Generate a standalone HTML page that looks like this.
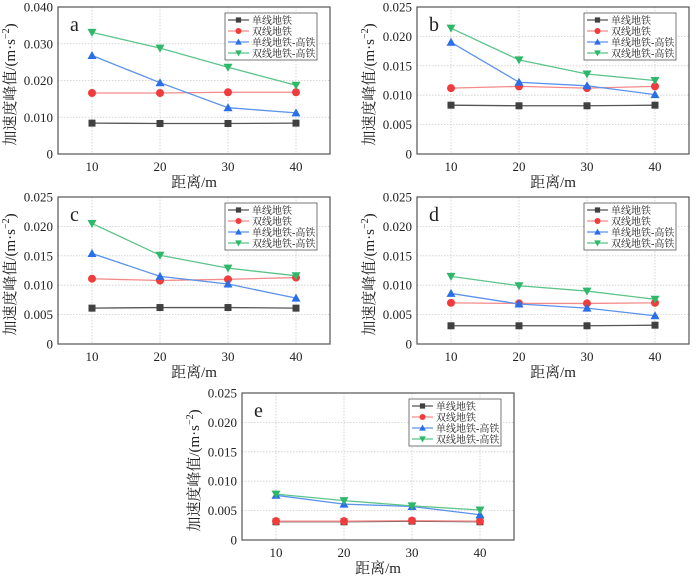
<!DOCTYPE html>
<html><head><meta charset="utf-8">
<style>
body{margin:0;background:#fff;width:700px;height:580px;overflow:hidden}
svg{display:block}
text{font-family:"Liberation Serif","Noto Serif CJK SC",serif;fill:#222}
</style></head>
<body>
<svg id="fig" width="700" height="580" viewBox="0 0 700 580"></svg>
<script>
const xCategories=[10,20,30,40];
const seriesNames=["单线地铁","双线地铁","单线地铁-高铁","双线地铁-高铁"];
const aBlack=[0.0084,0.0083,0.0083,0.0084];
const aRed=[0.0166,0.0166,0.0168,0.0168];
const aBlue=[0.0268,0.0194,0.0126,0.0112];
const aGreen=[0.0331,0.0288,0.0236,0.0187];
const bBlack=[0.0083,0.0082,0.0082,0.0083];
const bRed=[0.0112,0.0115,0.0112,0.0115];
const bBlue=[0.0190,0.0122,0.0116,0.0101];
const bGreen=[0.0214,0.0160,0.0136,0.0125];
const cBlack=[0.0061,0.0062,0.0062,0.0061];
const cRed=[0.0111,0.0108,0.0110,0.0113];
const cBlue=[0.0154,0.0115,0.0102,0.0078];
const cGreen=[0.0205,0.0151,0.0129,0.0116];
const dBlack=[0.0031,0.0031,0.0031,0.0032];
const dRed=[0.0070,0.0069,0.0069,0.0070];
const dBlue=[0.0086,0.0068,0.0061,0.0048];
const dGreen=[0.0115,0.0099,0.0090,0.0076];
const eBlack=[0.0031,0.0031,0.0032,0.0031];
const eRed=[0.0032,0.0032,0.0033,0.0032];
const eBlue=[0.0076,0.0061,0.0057,0.0043];
const eGreen=[0.0078,0.0067,0.0058,0.0051];
const yTicksA=["0","0.010","0.020","0.030","0.040"];
const yTicksB=["0","0.005","0.010","0.015","0.020","0.025"];

const NS="http://www.w3.org/2000/svg";
const svg=document.getElementById('fig');
const colors=["#404040","#f03c3c","#2a6fe8","#2fb86a"];
const lineColors=["#555","#f58a8a","#5a92ec","#5cc48a"];
function mk(tag,attrs,parent){const e=document.createElementNS(NS,tag);for(const k in attrs)e.setAttribute(k,attrs[k]);(parent||svg).appendChild(e);return e;}

function panel(L,T,letter,ticks,ymax,series,name){
  const W=272,H=147,R=L+W,B=T+H;
  const g=mk('g',{});
  
  
  const x=v=>L+(v-5)/40*W;
  const y=v=>B-v/ymax*H;
  ticks.forEach((t,i)=>{const v=ymax*i/(ticks.length-1);
    if(i>0&&i<ticks.length-1){const gl=mk('line',{x1:L,x2:R,y1:y(v),y2:y(v),stroke:'#ccc','stroke-dasharray':'1.5,1.5','stroke-width':0.8},g);
      }
    const tl=mk('text',{x:L-5,y:y(v)+4.5,'text-anchor':'end','font-size':13},g);tl.textContent=t;
    
  });
  xCategories.forEach(c=>{
    const gl=mk('line',{x1:x(c),x2:x(c),y1:T,y2:B,stroke:'#ccc','stroke-dasharray':'1.5,1.5','stroke-width':0.8},g);
    
    const tl=mk('text',{x:x(c),y:B+17,'text-anchor':'middle','font-size':13},g);tl.textContent=c;
    
  });
  const fr=mk('rect',{x:L,y:T,width:W,height:H,fill:'none',stroke:'#555','stroke-width':1.2},g);
  
  const lt=mk('text',{x:L+12,y:T+24,'font-size':20},g);lt.textContent=letter;
  
  const xt=mk('text',{x:L+W*0.5,y:B+33,'text-anchor':'middle','font-size':15},g);xt.textContent='距离/m';
  
  const yt=mk('text',{x:0,y:0,'text-anchor':'middle','font-size':15,transform:`translate(${L-43},${T+H/2+4}) rotate(-90)`},g);
  yt.innerHTML='加速度峰值/(m·s<tspan dy="-6" font-size="10">−2</tspan><tspan dy="6">)</tspan>';
  
  series.forEach((s,si)=>{
    const pl=mk('polyline',{points:s.map((v,i)=>x(xCategories[i])+','+y(v)).join(' '),fill:'none',stroke:lineColors[si],'stroke-width':1.3},g);
    
    s.forEach((v,i)=>marker(g,si,x(xCategories[i]),y(v)));
  });
  const lx=L+167,ly=T+6;
  const lg=mk('rect',{x:lx,y:ly,width:92,height:47,fill:'#fff',stroke:'#555','stroke-width':0.8},g);
  
  seriesNames.forEach((n,i)=>{const yy=ly+7+i*11;
    mk('line',{x1:lx+3,x2:lx+24,y1:yy,y2:yy,stroke:lineColors[i],'stroke-width':1.3},g);
    marker(g,i,lx+13.5,yy,0.75);
    const t=mk('text',{x:lx+27,y:yy+4,'font-size':10},g);t.textContent=n;
    
  });
}
function marker(g,si,cx,cy,s){s=s||1;let m;const c=colors[si];
  if(si===0)m=mk('rect',{x:cx-3.5*s,y:cy-3.5*s,width:7*s,height:7*s,fill:c},g);
  else if(si===1)m=mk('circle',{cx:cx,cy:cy,r:4*s,fill:c},g);
  else if(si===2)m=mk('polygon',{points:`${cx},${cy-4.5*s} ${cx-4.5*s},${cy+3.5*s} ${cx+4.5*s},${cy+3.5*s}`,fill:c},g);
  else m=mk('polygon',{points:`${cx},${cy+4.5*s} ${cx-4.5*s},${cy-3.5*s} ${cx+4.5*s},${cy-3.5*s}`,fill:c},g);
  
}
panel(58,7,'a',yTicksA,0.040,[aBlack,aRed,aBlue,aGreen],'a');
panel(417,7,'b',yTicksB,0.025,[bBlack,bRed,bBlue,bGreen],'b');
panel(58,197,'c',yTicksB,0.025,[cBlack,cRed,cBlue,cGreen],'c');
panel(417,197,'d',yTicksB,0.025,[dBlack,dRed,dBlue,dGreen],'d');
panel(242,393,'e',yTicksB,0.025,[eBlack,eRed,eBlue,eGreen],'e');
</script>
</body></html>
